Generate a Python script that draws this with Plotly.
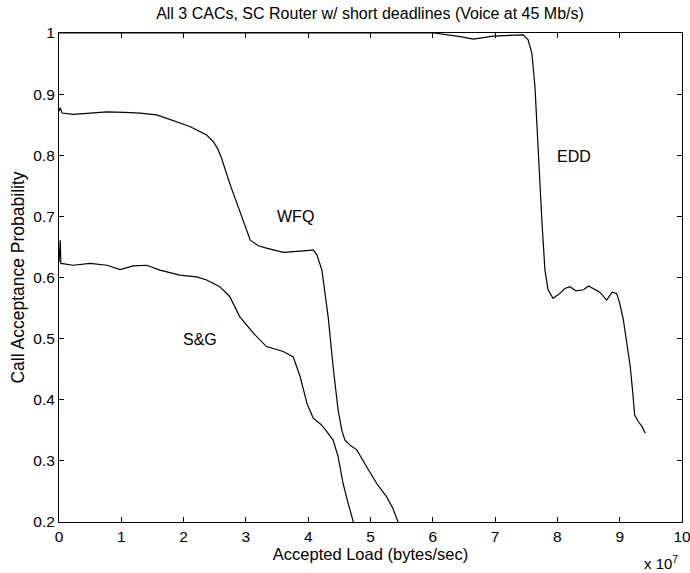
import plotly.graph_objects as go

# Data (x in units of 1e7 bytes/sec)
wfq_x = [0.0, 0.02, 0.05, 0.23, 0.50, 0.77, 1.05, 1.30, 1.57, 1.83, 2.10, 2.37, 2.48, 2.55, 2.61,
         2.74, 2.91, 3.00, 3.07, 3.20, 3.33, 3.60, 3.80, 3.98, 4.08, 4.14, 4.22, 4.32, 4.40, 4.48,
         4.54, 4.59, 4.68, 4.78, 4.94, 5.10, 5.26, 5.36, 5.45]
wfq_y = [0.872, 0.878, 0.869, 0.867, 0.869, 0.871, 0.870, 0.869, 0.866, 0.857, 0.847, 0.833, 0.822,
         0.810, 0.795, 0.754, 0.705, 0.680, 0.661, 0.652, 0.648, 0.641, 0.642, 0.644, 0.645, 0.637,
         0.612, 0.536, 0.454, 0.383, 0.350, 0.334, 0.325, 0.318, 0.290, 0.263, 0.241, 0.222, 0.198]

sg_x = [0.0, 0.02, 0.03, 0.23, 0.50, 0.77, 0.98, 1.19, 1.41, 1.62, 1.94, 2.21, 2.37, 2.58, 2.74,
        2.90, 3.12, 3.33, 3.60, 3.76, 3.87, 3.98, 4.08, 4.20, 4.30, 4.40, 4.48, 4.56, 4.64, 4.73]
sg_y = [0.625, 0.661, 0.623, 0.620, 0.623, 0.620, 0.613, 0.619, 0.620, 0.612, 0.604, 0.601, 0.596,
        0.585, 0.569, 0.536, 0.509, 0.487, 0.479, 0.470, 0.438, 0.394, 0.370, 0.360, 0.348, 0.334,
        0.307, 0.263, 0.231, 0.198]

edd_x = [0.0, 6.02, 6.44, 6.65, 6.97, 7.24, 7.45, 7.53, 7.59, 7.64, 7.69, 7.75, 7.80, 7.85, 7.93,
         8.04, 8.12, 8.20, 8.30, 8.42, 8.50, 8.58, 8.68, 8.79, 8.88, 8.95, 9.00, 9.06, 9.11, 9.17,
         9.21, 9.24, 9.30, 9.36, 9.41]
edd_y = [1.0, 1.0, 0.994, 0.990, 0.995, 0.996, 0.997, 0.989, 0.967, 0.912, 0.803, 0.694, 0.612,
         0.580, 0.566, 0.574, 0.582, 0.585, 0.578, 0.580, 0.586, 0.582, 0.576, 0.563, 0.576, 0.574,
         0.558, 0.530, 0.498, 0.454, 0.411, 0.375, 0.364, 0.356, 0.345]

labels = ["WFQ", "S&G", "EDD"]
label_x = [3.80, 2.27, 8.26]
label_y = [0.699, 0.498, 0.798]

x_ticks = [0, 1, 2, 3, 4, 5, 6, 7, 8, 9, 10]
y_ticks = [0.2, 0.3, 0.4, 0.5, 0.6, 0.7, 0.8, 0.9, 1]

FONT = "Liberation Sans, Arial, sans-serif"

fig = go.Figure()
for xs, ys in [(wfq_x, wfq_y), (sg_x, sg_y), (edd_x, edd_y)]:
    fig.add_trace(go.Scatter(x=xs, y=ys, mode="lines",
                             line=dict(color="black", width=1.2),
                             showlegend=False, hoverinfo="skip"))

for t, lx, ly in zip(labels, label_x, label_y):
    fig.add_annotation(x=lx, y=ly, text=t, showarrow=False, xref="x", yref="y",
                       font=dict(family=FONT, size=16, color="black"))

fig.add_annotation(x=0.997, y=-0.083, xref="paper", yref="paper", text="x 10<sup>7</sup>",
                   showarrow=False, xanchor="right", yanchor="middle",
                   font=dict(family=FONT, size=15, color="black"))

fig.update_layout(
    width=690, height=573,
    margin=dict(l=59, r=8, t=33, b=51, autoexpand=False),
    paper_bgcolor="white", plot_bgcolor="white",
    title=dict(text="All 3 CACs, SC Router w/ short deadlines (Voice at 45 Mb/s)",
               x=370 / 690, xanchor="center", y=1 - 13 / 573, yanchor="middle",
               font=dict(family=FONT, size=16, color="black")),
    font=dict(family=FONT, size=15, color="black"),
)
fig.update_xaxes(range=[0, 10], tickvals=x_ticks, ticktext=[str(v) for v in x_ticks],
                 showgrid=False, zeroline=False, showline=True, linecolor="black", linewidth=1,
                 mirror="ticks", ticks="inside", ticklen=5, tickcolor="black",
                 automargin=False, ticklabeloverflow="allow",
                 tickfont=dict(family=FONT, size=15.5),
                 title=dict(text="Accepted Load (bytes/sec)", standoff=2,
                            font=dict(family=FONT, size=16.5)))
fig.update_yaxes(range=[0.2, 1], tickvals=y_ticks, ticktext=[("%g" % v) for v in y_ticks],
                 showgrid=False, zeroline=False, showline=True, linecolor="black", linewidth=1,
                 mirror="ticks", ticks="inside", ticklen=5, tickcolor="black",
                 automargin=False, ticklabeloverflow="allow",
                 tickfont=dict(family=FONT, size=15.5),
                 title=dict(text="Call Acceptance Probability", standoff=4,
                            font=dict(family=FONT, size=17.5)))

fig.write_html("out.html", config={"displayModeBar": False},
               post_script="document.body.style.margin='0';document.body.style.overflow='hidden';")
